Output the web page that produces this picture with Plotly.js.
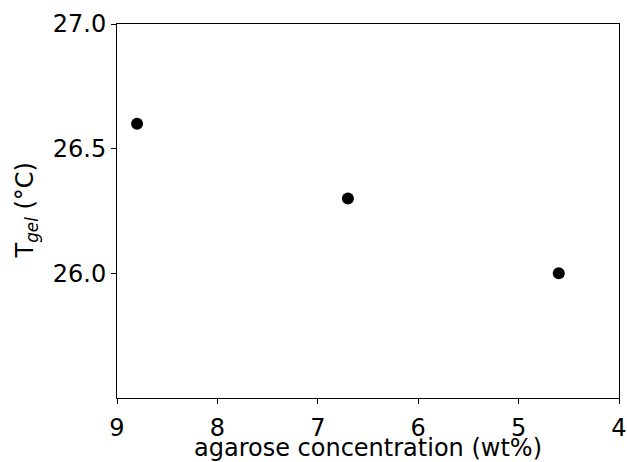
<!DOCTYPE html>
<html>
<head>
<meta charset="utf-8">
<script src="https://cdn.plot.ly/plotly-3.0.1.min.js"></script>
<style>html,body{margin:0;padding:0;background:#fff;}#chart{width:627px;height:462px;}</style>
</head>
<body>
<div id="chart"></div>
<script>
const concentration = [8.8, 6.7, 4.6];
const tGel = [26.6, 26.3, 26.0];
const xTickVals = [9, 8, 7, 6, 5, 4];
const yTickVals = [26.0, 26.5, 27.0];
const yTickText = ["26.0", "26.5", "27.0"];
const xTitle = "agarose concentration (wt%)";
const yTitle = "T<sub><i>gel</i></sub> (°C)";

const font = {family: "DejaVu Sans", size: 24, color: "#000"};

Plotly.newPlot("chart", [{
  x: concentration,
  y: tGel,
  type: "scatter",
  mode: "markers",
  marker: {color: "#000", size: 12}
}], {
  width: 627, height: 462,
  margin: {l: 117, r: 8, t: 24, b: 64},
  paper_bgcolor: "#fff", plot_bgcolor: "#fff",
  font: font,
  showlegend: false,
  xaxis: {
    range: [9, 4],
    tickvals: xTickVals,
    ticks: "outside", ticklen: 5, tickwidth: 1, tickcolor: "#000",
    ticklabelstandoff: 3,
    showline: true, linecolor: "#000", linewidth: 1, mirror: true,
    showgrid: false, zeroline: false,
    tickfont: font
  },
  yaxis: {
    range: [25.5, 27.0],
    tickvals: yTickVals, ticktext: yTickText,
    ticks: "outside", ticklen: 5, tickwidth: 1, tickcolor: "#000",
    showline: true, linecolor: "#000", linewidth: 1, mirror: true,
    showgrid: false, zeroline: false,
    tickfont: font
  },
  annotations: [
    {text: xTitle, xref: "paper", yref: "paper", x: 0.5, y: 0,
     xanchor: "center", yanchor: "top", yshift: -34, showarrow: false, font: font},
    {text: yTitle, xref: "paper", yref: "paper", x: 0, y: 0.5,
     xanchor: "left", yanchor: "middle", xshift: -109, textangle: -90, showarrow: false, font: font}
  ]
}, {displayModeBar: false, staticPlot: true});
</script>
</body>
</html>
